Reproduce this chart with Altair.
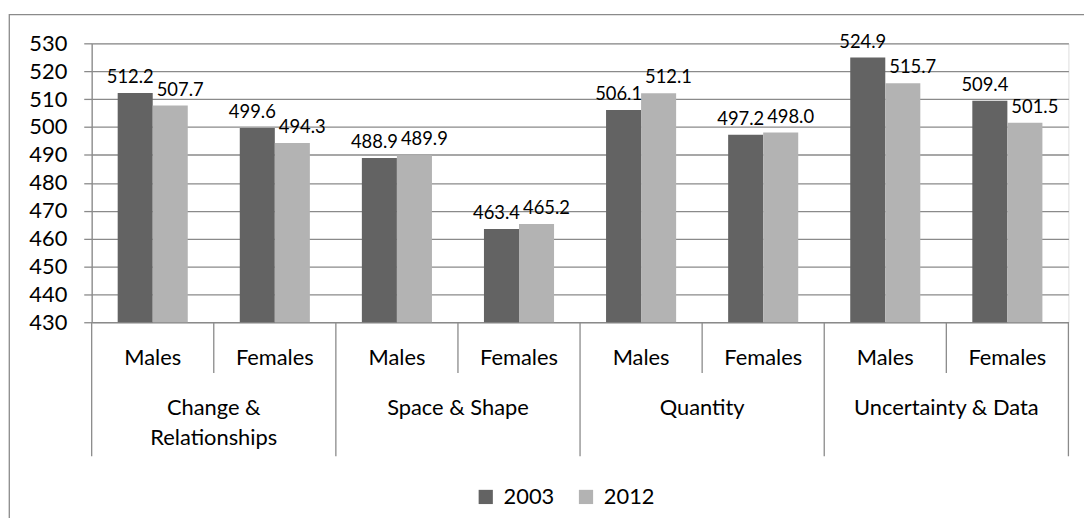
import altair as alt
import pandas as pd

groups = ["Change &\nRelationships", "Space & Shape", "Quantity", "Uncertainty & Data"]
sexes = ["Males", "Females"]
years = ["2003", "2012"]
v2003 = [512.2, 499.6, 488.9, 463.4, 506.1, 497.2, 524.9, 509.4]
v2012 = [507.7, 494.3, 489.9, 465.2, 512.1, 498.0, 515.7, 501.5]
y_ticks = [430, 440, 450, 460, 470, 480, 490, 500, 510, 520, 530]

FONT = "Lato"
DARK = "#636363"
LIGHT = "#b3b3b3"
GRID = "#8a8a8a"

keys = [f"{g}|{s}" for g in groups for s in sexes]
rows = []
for i, k in enumerate(keys):
    g, s = k.split("|")
    for y, vals in zip(years, [v2003, v2012]):
        rows.append({"key": k, "group": g, "sex": s, "year": y, "value": vals[i]})
df = pd.DataFrame(rows)

cats = pd.DataFrame([{"key": k, "group": k.split("|")[0], "sex": k.split("|")[1]} for k in keys])

W, H = 984, 281

xsc = alt.Scale(domain=keys, paddingInner=0, paddingOuter=0)
X = alt.X("key:N", scale=xsc, axis=None)
xoff = alt.XOffset("year:N", scale=alt.Scale(domain=years, paddingInner=0, paddingOuter=0.742))
Y = alt.Y("value:Q", scale=alt.Scale(domain=[430, 530], zero=False, nice=False),
          axis=alt.Axis(values=y_ticks, title=None, grid=True, gridColor=GRID, gridWidth=1.3,
                        domainColor=GRID, domainWidth=1.3, tickColor=GRID, tickWidth=1.3,
                        tickSize=8, labelFont=FONT, labelFontSize=22, labelColor="#000",
                        labelPadding=17, labelBaseline="middle", labelOverlap=False))

border = alt.Chart(pd.DataFrame({"a": [0]})).mark_rect(
    fillOpacity=0, stroke=GRID, strokeWidth=1.3
).encode(x=alt.value(-83), x2=alt.value(1010), y=alt.value(-29), y2=alt.value(520))

bars = alt.Chart(df).mark_bar().encode(
    x=X, xOffset=xoff, y=Y, y2=alt.datum(430),
    color=alt.Color("year:N", scale=alt.Scale(domain=years, range=[DARK, LIGHT]), title=None,
                    legend=alt.Legend(orient="none", legendX=386, legendY=446, direction="horizontal",
                                      symbolType="square", symbolSize=205, symbolStrokeWidth=0,
                                      labelFont=FONT, labelFontSize=22, labelColor="#000",
                                      labelOffset=7, columnPadding=20, padding=0))
)

lab03 = alt.Chart(df).transform_filter(alt.datum.year == "2003").mark_text(
    font=FONT, fontSize=18.5, color="#000", baseline="alphabetic", dy=-10, dx=-5
).encode(x=X, xOffset=xoff, y=Y, text=alt.Text("value:Q", format=".1f"))
lab12 = alt.Chart(df).transform_filter(alt.datum.year == "2012").mark_text(
    font=FONT, fontSize=18.5, color="#000", baseline="alphabetic", dy=-10, dx=10
).encode(x=X, xOffset=xoff, y=Y, text=alt.Text("value:Q", format=".1f"))

sub_sep = alt.Chart(cats).transform_filter(alt.datum.sex == "Females").mark_rule(
    color=GRID, strokeWidth=1.3
).encode(x=alt.X("key:N", scale=xsc, axis=None, bandPosition=0), y=alt.value(H), y2=alt.value(H + 51))

grp_sep = alt.Chart(cats).transform_filter(alt.datum.sex == "Males").mark_rule(
    color=GRID, strokeWidth=1.3
).encode(x=alt.X("key:N", scale=xsc, axis=None, bandPosition=0), y=alt.value(H), y2=alt.value(H + 135))

end_sep = alt.Chart(cats.tail(1)).mark_rule(
    color=GRID, strokeWidth=1.3
).encode(x=alt.X("key:N", scale=xsc, axis=None, bandPosition=1), y=alt.value(H), y2=alt.value(H + 135))

sex_lab = alt.Chart(cats).mark_text(
    font=FONT, fontSize=22, color="#000", baseline="top", align="center"
).encode(x=alt.X("key:N", scale=xsc, axis=None), y=alt.value(H + 26), text="sex:N")

grp_lab = alt.Chart(cats).transform_filter(alt.datum.sex == "Females").mark_text(
    font=FONT, fontSize=22, color="#000", baseline="top", align="center", lineBreak="\n", lineHeight=31
).encode(x=alt.X("key:N", scale=xsc, axis=None, bandPosition=0), y=alt.value(H + 76), text="group:N")

chart = alt.layer(border, bars, lab03, lab12, sub_sep, grp_sep, end_sep, sex_lab, grp_lab).properties(
    width=W, height=H,
    autosize=alt.AutoSizeParams(type="none"),
    padding={"left": 84.3, "top": 33.7, "right": 15.7, "bottom": 195},
).configure_view(strokeWidth=0).configure(background="white")

chart.save("out.html", embed_options={"renderer": "svg", "actions": False})
